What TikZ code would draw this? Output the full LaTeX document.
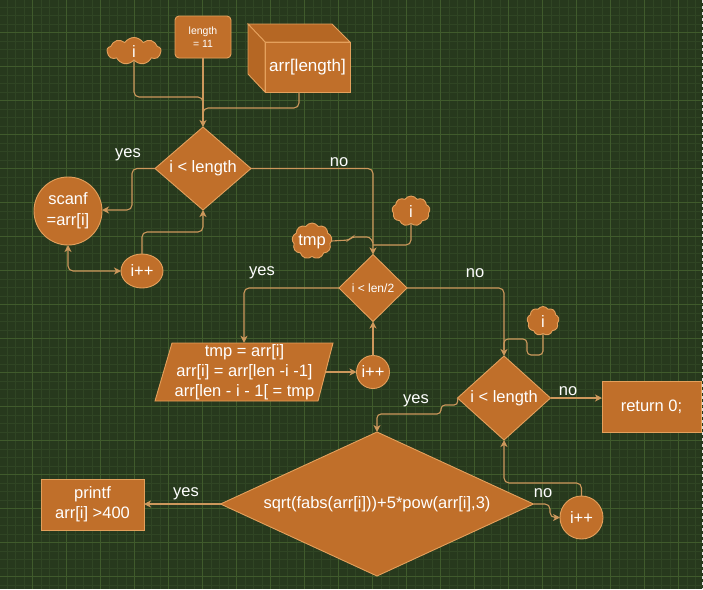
\documentclass[tikz,border=0pt]{standalone}
\usepackage{fontspec}
\setmainfont{Liberation Sans}
\usetikzlibrary{shapes.geometric,shapes.symbols,arrows.meta,calc}
\definecolor{bgc}{RGB}{39,57,29}
\definecolor{minorc}{RGB}{48,69,36}
\definecolor{majorc}{RGB}{64,91,44}
\definecolor{shpfill}{RGB}{192,111,42}
\definecolor{shpside}{RGB}{181,103,36}
\definecolor{shpline}{RGB}{228,160,92}
\definecolor{conncol}{RGB}{205,152,92}
\newcommand\fmain{\fontsize{16.5}{20}\selectfont}
\newcommand\fsmall{\fontsize{10.5}{12.7}\selectfont}
\newcommand\fmid{\fontsize{12}{14}\selectfont}
\begin{document}
\begin{tikzpicture}[x=1pt,y=-1pt,
  shp/.style={fill=shpfill,draw=shpline,line width=0.9pt,text=white,font=\fmain,align=center,inner sep=0pt,outer sep=0pt},
  dia/.style={shp,diamond},
  cld/.style={shp,cloud,cloud puffs=9,cloud puff arc=115,cloud ignores aspect},
  conn/.style={draw=conncol,line width=1.1pt,rounded corners=5pt},
  tip/.style={-{Stealth[length=7pt,width=7pt,inset=2pt]}},
  bothtip/.style={{Stealth[length=7pt,width=7pt,inset=2pt]}-{Stealth[length=7pt,width=7pt,inset=2pt]}},
  lbl/.style={text=white,font=\fmain,inner sep=0pt},
]
% background and grid
\useasboundingbox (0,0) rectangle (703,589);
\fill[bgc] (0,0) rectangle (703,589);
\foreach \k in {0,...,83} {\draw[minorc,line width=0.6pt] ({-1.7+8.5*\k},0) -- ({-1.7+8.5*\k},589);}
\foreach \k in {0,...,70} {\draw[minorc,line width=0.6pt] (0,{-1.7+8.5*\k}) -- (703,{-1.7+8.5*\k});}
\foreach \k in {1,...,21} {\draw[majorc,line width=0.8pt] ({-1.7+34*\k},0) -- ({-1.7+34*\k},589);}
\foreach \k in {1,...,17} {\draw[majorc,line width=0.8pt] (0,{-1.7+34*\k}) -- (703,{-1.7+34*\k});}
\draw[white!75!gray,line width=0.8pt,dash pattern=on 3pt off 3pt] (702,0) -- (702,589);

% top inputs
\node[cld,minimum width=54,minimum height=27,label={[lbl,yshift=-1pt]center:i}] (c1) at (134,51) {};
\node[shp,rounded corners=4pt,minimum width=56,minimum height=42,font=\fsmall] (len) at (203,37) {length\\= 11};
% cube
\filldraw[fill=shpside,draw=shpline,line width=0.9pt] (248,24) -- (332,24) -- (350,42) -- (265,42) -- cycle;
\filldraw[fill=shpside,draw=shpline,line width=0.9pt] (248,24) -- (265,42) -- (265,92) -- (248,74) -- cycle;
\node[shp,minimum width=85,minimum height=50,font=\fontsize{17}{20}\selectfont] (arr) at (307.5,67) {arr[length]};

% first loop
\node[dia,aspect=1.16,minimum width=96,minimum height=83] (d1) at (203,168.5) {i < length};
\node[shp,circle,minimum size=68] (scanf) at (68,211) {scanf\\[1pt]=arr[i]};
\node[shp,ellipse,minimum width=42,minimum height=34] (inc1) at (142,271) {i++};

% second loop
\node[cld,minimum width=38,minimum height=30,label={[lbl,yshift=-1pt]center:i}] (c2) at (411,211) {};
\node[cld,minimum width=40,minimum height=36,label={[lbl,yshift=-1pt]center:tmp}] (c3) at (312,241) {};
\node[dia,aspect=1,minimum width=68,minimum height=67,font=\fmid] (d2) at (373,288) {i < len/2};
\filldraw[fill=shpfill,draw=shpline,line width=0.9pt] (172,343) -- (333,343) -- (318,401) -- (155,401) -- cycle;
\node[text=white,font=\fmain,align=center,inner sep=0pt,minimum width=163,minimum height=58] (par) at (244.5,372)
  {tmp = arr[i]\\arr[i] = arr[len -i -1]\\arr[len - i - 1[ = tmp};
\node[shp,circle,minimum size=33] (inc2) at (373,372) {i++};

% third loop
\node[cld,minimum width=32,minimum height=29,label={[lbl,yshift=-1pt]center:i}] (c4) at (543,321) {};
\node[dia,aspect=1.1,minimum width=93,minimum height=84] (d3) at (504,398) {i < length};
\node[shp,minimum width=99,minimum height=51] (ret) at (651.5,406.5) {return 0;};
\node[dia,aspect=2.17,minimum width=313,minimum height=144] (d4) at (377,504) {sqrt(fabs(arr[i]))+5*pow(arr[i],3)};
\node[shp,minimum width=103,minimum height=51] (pr) at (92.5,504.5) {printf\\arr[i] >400};
\node[shp,circle,minimum size=43] (inc3) at (581.5,517.5) {i++};

% connectors
\draw[conn] (c1.south) -- (134,97) -- (203,97) -- (203,115);
\draw[conn] (arr.south -| 299,0) -- (299,108) -- (203,108) -- (203,115);
\draw[conn,tip] (len.south) -- (d1.north);

\draw[conn,tip] (d1.west) -- (132,168.5) -- (132,210) -- (scanf.east |- 0,210);
\draw[conn,bothtip] (scanf.south) -- (68,271) -- (inc1.west);
\draw[conn,tip] (inc1.north) -- (142,232) -- (203,232) -- (d1.south);

\draw[conn,tip] (d1.east) -- (373,168.5) -- (d2.north);
\draw[conn] (c2.south) -- (411,245) -- (373,245);
\draw[conn,rounded corners=3pt] (c3.east) -- (349,240) -- (352,237) -- (370,237) -- (373,243);
\draw[conn,tip] (d2.west) -- (244,288) -- (par.north -| 244,0);
\draw[conn,tip] (par.east) -- (inc2.west);
\draw[conn,tip] (inc2.north) -- (d2.south);

\draw[conn,tip] (d2.east) -- (504,288) -- (d3.north);
\draw[conn,rounded corners=4pt] (c4.south) -- (543,355) -- (527,355) -- (527,339) -- (504,339) -- (504,350);
\draw[conn,tip] (d3.east) -- (ret.west |- d3.east);
\draw[conn,tip,rounded corners=4pt] (d3.west) -- (458,405) -- (441,405) -- (441,414) -- (377,414) -- (d4.north);
\draw[conn,tip] (d4.west) -- (pr.east |- d4.west);
\draw[conn,tip] (d4.east) -- (550,504) -- (550,517.5) -- (inc3.west);
\draw[conn,tip] (inc3.north) -- (581.5,483) -- (504,483) -- (d3.south);

% labels
\node[lbl] (ly1) at (128,155) {yes};
\node[lbl] (ln1) at (339,162) {no};
\node[lbl] (ly2) at (262,273) {yes};
\node[lbl] (ln2) at (475,273) {no};
\node[lbl] (ly3) at (416,401) {yes};
\node[lbl] (ln3) at (568,391) {no};
\node[lbl] (ly4) at (186,494) {yes};
\node[lbl] (ln4) at (543,493) {no};
\end{tikzpicture}
\end{document}
